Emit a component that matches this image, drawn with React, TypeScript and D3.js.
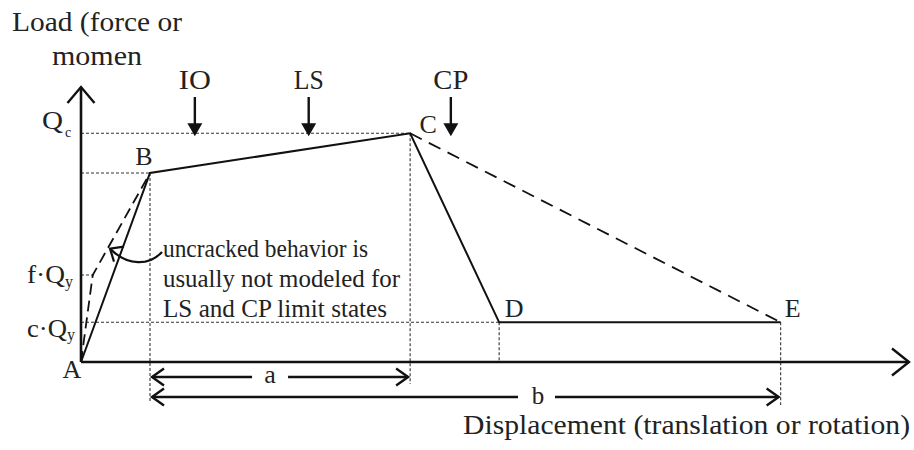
import React from 'react';
import * as d3 from 'd3';

// Generalized force–deformation backbone, normalized: displacement in units of
// yield displacement, load in units of yield load Qy.
const pointNames = ['A', 'B', 'C', 'D', 'E'];
const displacement = [0, 1.0, 4.77, 6.06, 10.14];
const load = [0, 1.0, 1.21, 0.21, 0.21];

// Uncracked branch between A and B (dashed)
const uncrackedDisp = [0, 0.17, 1.0];
const uncrackedLoad = [0, 0.46, 1.0];

// Limit-state markers along the backbone
const limitStates = ['IO', 'LS', 'CP'];
const limitStateDisp = [1.65, 3.3, 5.36];

// Load levels marked on the vertical axis
const loadLevelLabels = [
  { main: 'Q', sub: 'c' },
  { main: 'f·Q', sub: 'y' },
  { main: 'c·Q', sub: 'y' },
];
const loadLevels = [1.21, 0.46, 0.21];

const axisTitleY = ['Load (force or', 'momen'];
const axisTitleX = 'Displacement (translation or rotation)';
const noteLines = [
  'uncracked behavior is',
  'usually not modeled for',
  'LS and CP limit states',
];

const W = 914;
const H = 450;
const FONT = '"Liberation Serif", "DejaVu Serif", serif';
const INK = '#111';
const TEXT = '#222';

const x = d3.scaleLinear().domain([0, 12]).range([81, 909]);
const y = d3.scaleLinear().domain([0, 1.455]).range([362, 87]);

const line = d3
  .line<[number, number]>()
  .x((d) => x(d[0]))
  .y((d) => y(d[1]));

type TProps = {
  x: number;
  y: number;
  size: number;
  len?: number;
  anchor?: 'start' | 'middle' | 'end';
  children: React.ReactNode;
};

function T({ x: tx, y: ty, size, len, anchor = 'start', children }: TProps) {
  return (
    <text
      x={tx}
      y={ty}
      fontSize={size}
      fontFamily={FONT}
      fill={TEXT}
      textAnchor={anchor}
      textLength={len}
      lengthAdjust={len ? 'spacingAndGlyphs' : undefined}
    >
      {children}
    </text>
  );
}

// Open chevron arrowhead pointing in direction (dx, dy)
function chevron(tx: number, ty: number, dx: number, dy: number, len: number, half: number) {
  const bx = tx - dx * len;
  const by = ty - dy * len;
  const px = -dy * half;
  const py = dx * half;
  return `M${bx + px},${by + py}L${tx},${ty}L${bx - px},${by - py}`;
}

export default function App() {
  const backbone: [number, number][] = displacement.map((d, i) => [d, load[i]]);
  const uncracked: [number, number][] = uncrackedDisp.map((d, i) => [d, uncrackedLoad[i]]);
  const [A, B, C, D, E] = backbone;

  const x0 = x(0);
  const y0 = y(0);
  const xEnd = x.range()[1];
  const yTop = y.range()[1];

  const dotted = { stroke: '#333', strokeWidth: 1.1, strokeDasharray: '3,2', fill: 'none' };

  // dimension arrows a and b
  const aY = 377;
  const bY = 397;
  const aMid = (x(B[0]) + x(C[0])) / 2 - 10;
  const bMid = 538;

  // annotation arrow target on the uncracked branch region
  const tipX = x(0.42);
  const tipY = y(0.6);
  const noteX = 163;

  return (
    <svg
      width={W}
      height={H}
      style={{ position: 'absolute', left: 0, top: 0, background: '#fff' }}
    >
      <rect width={W} height={H} fill="#fff" />

      {/* reference dotted lines */}
      <path d={`M${x0},${y(loadLevels[0])}H${x(C[0])}`} style={dotted} />
      <path d={`M${x0},${y(B[1])}H${x(B[0])}`} style={dotted} />
      <path d={`M${x0},${y(loadLevels[1])}H${x(uncrackedDisp[1]) + 2}`} style={dotted} />
      <path d={`M${x0},${y(loadLevels[2])}H${x(D[0])}`} style={dotted} />
      <path d={`M${x(B[0])},${y(B[1])}V${bY + 6}`} style={dotted} />
      <path d={`M${x(C[0])},${y(C[1])}V${aY + 7}`} style={dotted} />
      <path d={`M${x(D[0])},${y(D[1])}V${y0}`} style={dotted} />
      <path d={`M${x(E[0])},${y(E[1])}V${bY + 8}`} style={dotted} />

      {/* axes */}
      <path d={`M${x0},${y0}V${yTop}`} stroke={INK} strokeWidth={2.6} fill="none" />
      <path d={`M${x0},${y0}H${xEnd}`} stroke={INK} strokeWidth={2.6} fill="none" />
      <path d={chevron(x0, yTop, 0, -1, 16, 13.5)} stroke={INK} strokeWidth={2.4} fill="none" />
      <path d={chevron(xEnd, y0, 1, 0, 17, 13.5)} stroke={INK} strokeWidth={2.4} fill="none" />

      {/* backbone A-B-C-D-E */}
      <path d={line(backbone) ?? ''} stroke={INK} strokeWidth={2} fill="none" strokeLinejoin="miter" />
      {/* dashed alternatives */}
      <path d={line(uncracked) ?? ''} stroke={INK} strokeWidth={1.8} fill="none" strokeDasharray="11,6" />
      <path d={line([C, E]) ?? ''} stroke={INK} strokeWidth={1.8} fill="none" strokeDasharray="13,8" />

      {/* limit-state markers */}
      {limitStates.map((name, i) => {
        const mx = x(limitStateDisp[i]);
        const tip = y(loadLevels[0]) + 3;
        return (
          <g key={name}>
            <path d={`M${mx},97V${tip - 12}`} stroke={INK} strokeWidth={2.4} />
            <path d={`M${mx - 7.5},${tip - 13}L${mx + 7.5},${tip - 13}L${mx},${tip}Z`} fill={INK} />
            <T x={mx} y={89} size={27} anchor="middle" len={name === 'CP' ? 35 : name === 'IO' ? 32 : 30}>
              {name}
            </T>
          </g>
        );
      })}

      {/* point labels */}
      <T x={x(A[0]) - 9} y={378} size={26} anchor="middle">{pointNames[0]}</T>
      <T x={x(B[0]) - 6} y={165} size={26} anchor="middle">{pointNames[1]}</T>
      <T x={x(C[0]) + 18} y={133} size={26} anchor="middle">{pointNames[2]}</T>
      <T x={x(D[0]) + 15} y={317} size={26} anchor="middle">{pointNames[3]}</T>
      <T x={x(E[0]) + 12} y={317} size={26} anchor="middle">{pointNames[4]}</T>

      {/* load-level labels */}
      <T x={42} y={y(loadLevels[0]) - 4} size={25} len={21}>{loadLevelLabels[0].main}</T>
      <T x={65} y={y(loadLevels[0]) + 4} size={14}>{loadLevelLabels[0].sub}</T>
      <T x={27} y={y(loadLevels[1]) + 8} size={26} len={38}>{loadLevelLabels[1].main}</T>
      <T x={65} y={y(loadLevels[1]) + 12} size={16}>{loadLevelLabels[1].sub}</T>
      <T x={27} y={y(loadLevels[2]) + 15} size={26} len={40}>{loadLevelLabels[2].main}</T>
      <T x={67} y={y(loadLevels[2]) + 18} size={16}>{loadLevelLabels[2].sub}</T>

      {/* dimension arrows */}
      <path d={`M${x(B[0]) + 2},${aY}H${aMid - 18}M${aMid + 18},${aY}H${x(C[0]) - 2}`} stroke={INK} strokeWidth={2.4} />
      <path d={chevron(x(B[0]) + 2, aY, -1, 0, 12, 8.5)} stroke={INK} strokeWidth={2.4} fill="none" />
      <path d={chevron(x(C[0]) - 2, aY, 1, 0, 12, 8.5)} stroke={INK} strokeWidth={2.4} fill="none" />
      <T x={aMid} y={383} size={26} anchor="middle">a</T>

      <path d={`M${x(B[0]) + 2},${bY}H${bMid - 20}M${bMid + 17},${bY}H${x(E[0]) - 2}`} stroke={INK} strokeWidth={2.4} />
      <path d={chevron(x(B[0]) + 2, bY, -1, 0, 12, 8.5)} stroke={INK} strokeWidth={2.4} fill="none" />
      <path d={chevron(x(E[0]) - 2, bY, 1, 0, 12, 8.5)} stroke={INK} strokeWidth={2.4} fill="none" />
      <T x={bMid} y={404} size={25} anchor="middle">b</T>

      {/* annotation with curved pointer */}
      <path
        d={`M${noteX - 1},${252}C${noteX - 14},${266} ${tipX + 18},${266} ${tipX + 1},${tipY + 1}`}
        stroke={INK}
        strokeWidth={2.2}
        fill="none"
      />
      <path d={`M${tipX + 14},${tipY - 2}L${tipX},${tipY}L${tipX + 4},${tipY + 13}`} stroke={INK} strokeWidth={2.2} fill="none" />
      {noteLines.map((t, i) => (
        <T key={t} x={noteX} y={257 + i * 30} size={26} len={[205, 237, 224][i]}>
          {t}
        </T>
      ))}

      {/* axis titles */}
      <T x={12} y={31} size={27} len={170}>{axisTitleY[0]}</T>
      <T x={52} y={65} size={27} len={90}>{axisTitleY[1]}</T>
      <T x={463} y={434} size={27} len={447}>{axisTitleX}</T>
    </svg>
  );
}
